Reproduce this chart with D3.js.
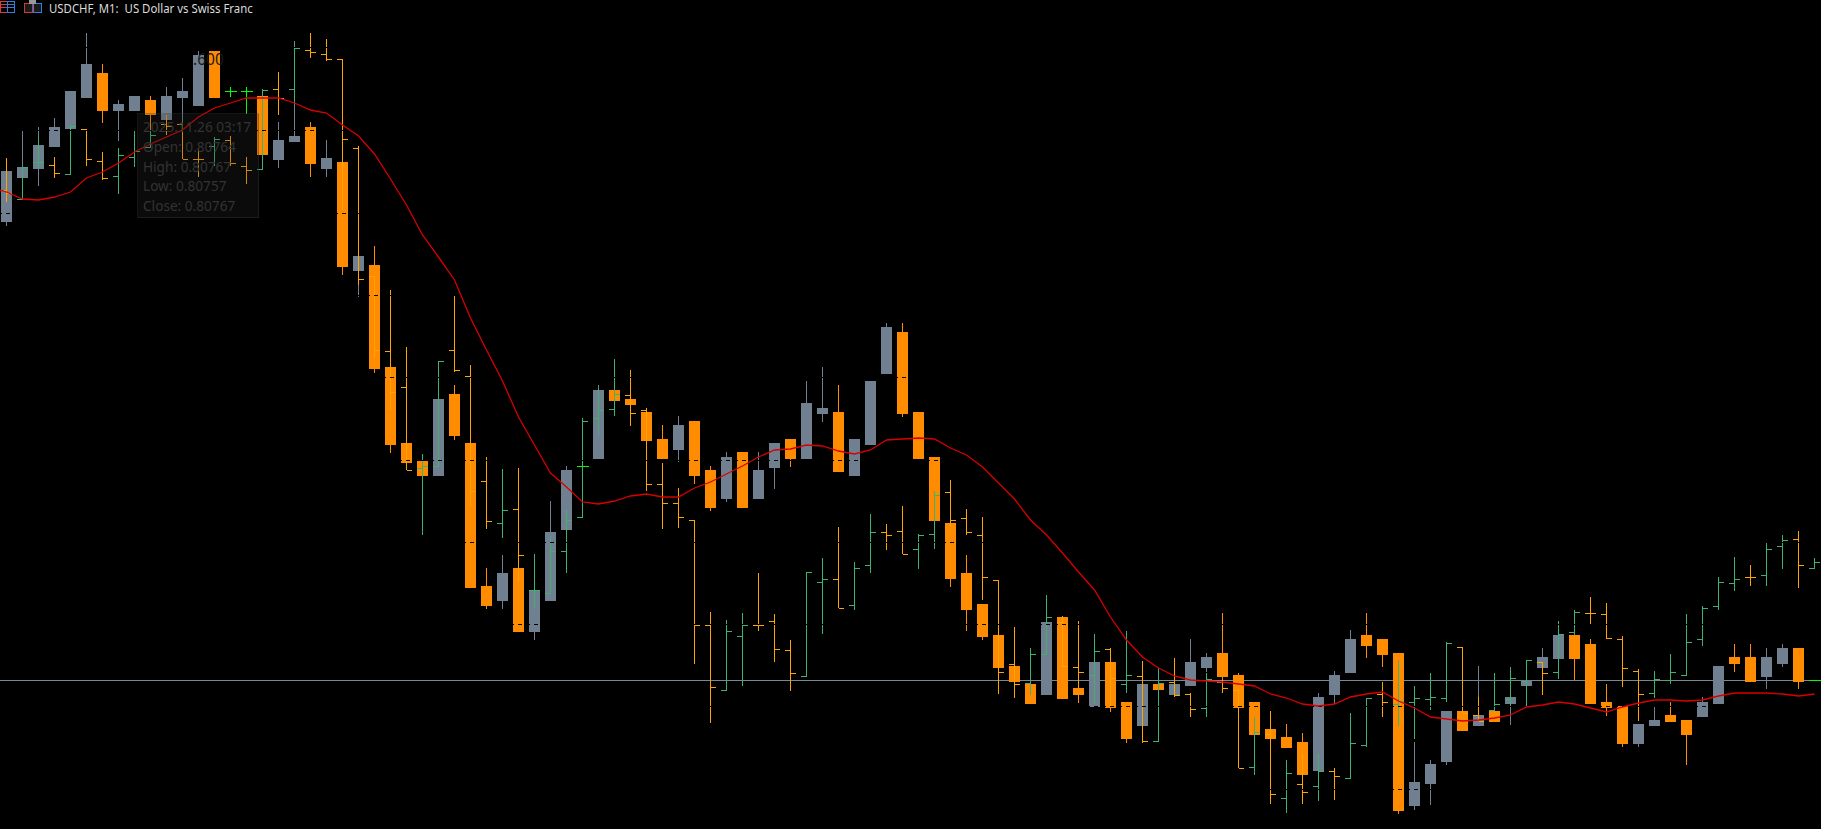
<!DOCTYPE html>
<html>
<head>
<meta charset="utf-8">
<title>USDCHF, M1</title>
<script src="https://cdn.jsdelivr.net/npm/d3@7/dist/d3.min.js"></script>
<style>
html,body{margin:0;padding:0;background:#000;overflow:hidden}
svg{display:block}
text{font-family:"Noto Sans","Open Sans",sans-serif}
</style>
</head>
<body>
<div id="chart"></div>
<script>
// All prices are points above 0.80000 (1 point = 0.00001).
const candleOpen = [607,651,660,682,700,731,756,718,718,729,709,731,723,778,738,738,733,669,687,702,660,667,558,564,462,386,368,353,435,386,243,228,261,197,228,299,363,370,439,430,417,390,379,408,359,330,377,330,361,390,370,415,417,353,384,455,497,417,372,306,256,225,194,163,145,134,212,141,122,167,127,103,145,134,143,161,176,154,127,100,92,87,58,134,156,194,190,176,23,45,67,118,103,118,125,143,161,170,194,185,127,123,85,103,114,109,112,125,172,172,152,165,181,149];
const candleHigh = [661,698,702,711,738,796,765,729,733,733,742,751,778,778,742,742,733,707,726,707,689,698,573,583,462,386,368,430,444,386,261,274,261,239,328,363,363,444,439,430,421,404,413,408,363,377,377,377,386,390,448,462,444,390,448,506,506,417,372,306,274,225,194,163,145,207,212,141,167,167,127,145,145,145,190,176,216,156,127,100,105,96,136,158,199,216,190,176,87,69,118,123,163,118,132,149,181,194,194,190,145,123,105,122,127,109,132,163,185,185,181,185,181,149];
const candleLow = [603,651,643,682,700,731,706,688,718,689,709,696,723,731,732,715,674,661,687,652,652,554,532,456,376,366,353,353,389,241,220,220,197,189,228,299,363,370,428,424,388,370,367,345,318,327,321,330,340,362,370,407,357,353,384,455,412,370,308,242,198,189,161,147,125,134,130,126,122,117,86,103,139,134,143,157,136,121,94,90,81,54,58,125,156,171,162,15,19,24,64,98,103,107,104,143,161,170,149,125,113,82,82,103,107,64,112,125,157,147,140,162,140,149];
const candleClose = [658,662,684,702,738,765,718,725,733,714,733,738,774,731,738,738,674,689,693,665,671,562,573,460,384,366,353,430,393,241,223,256,197,239,297,359,363,439,428,424,388,370,404,353,321,372,321,359,386,370,426,421,357,390,448,502,415,370,308,250,219,192,161,147,125,207,130,134,167,121,90,145,139,145,167,172,152,121,94,90,81,54,132,154,190,183,174,18,47,65,118,98,114,107,132,149,172,194,170,125,121,85,105,109,107,94,127,163,165,147,172,181,147,149];

const barOpen = [639,630,667,664,655,700,668,653,672,682,705,705,670,683,689,663,660,740,740,779,775,770,681,553,478,442,361,363,479,453,348,306,320,239,236,278,312,411,420,434,419,345,326,309,204,139,193,204,208,179,153,247,250,224,264,297,298,280,295,337,311,294,249,165,146,175,207,162,154,180,145,153,88,147,135,121,147,139,62,95,31,45,43,58,51,84,135,125,127,130,131,182,114,119,130,148,167,157,197,216,215,190,158,136,149,154,190,223,246,252,254,283,290,261];
const barHigh = [671,663,692,672,704,700,677,681,698,699,714,707,681,692,693,672,740,757,788,796,790,770,683,553,539,482,375,468,533,464,372,360,361,275,293,319,411,441,470,459,421,366,341,309,217,209,216,256,215,189,257,271,302,267,315,305,323,295,338,349,320,312,249,202,181,234,213,208,195,181,198,168,161,171,136,156,149,139,112,118,69,75,75,61,116,131,147,169,143,156,187,182,132,156,162,169,167,208,219,232,226,193,160,158,175,215,223,252,272,264,286,294,298,271];
const barLow = [627,630,661,651,655,663,649,635,662,681,694,670,652,663,663,645,660,714,726,771,768,619,544,471,419,359,294,363,457,323,300,291,247,220,235,256,312,394,413,403,338,300,301,165,106,139,143,198,167,138,153,195,221,219,256,279,275,260,280,302,294,229,135,131,134,175,162,141,125,122,136,86,88,132,112,112,136,61,54,25,16,25,28,29,51,82,112,103,90,119,127,116,108,118,123,123,134,150,194,205,190,142,108,131,145,154,183,219,238,243,243,260,241,260];
const barClose = [636,662,667,656,703,670,651,674,678,694,703,670,670,690,666,659,739,731,781,777,770,690,550,479,437,359,363,468,459,338,308,319,274,239,278,309,408,419,435,416,345,326,312,204,142,198,204,204,180,156,257,250,221,261,297,294,275,294,334,309,297,252,157,145,175,212,163,157,178,151,154,88,146,134,120,150,141,61,97,35,56,37,58,53,86,131,127,128,131,132,186,116,108,125,151,169,156,195,217,216,191,161,135,150,157,187,221,247,250,252,280,289,264,267];
// Flat bars that the picture shows in the falling colour.
const flatFallingBars = [12,47,99,109];

// Moving average, first value belongs to the bar just off the left edge.
const movingAverage = [642,637,630,629,632,637,651,657,666,677,685,692,699,712,721,726,731,731,731,726,719,716,704,693,675,650,624,594,572,549,511,479,448,412,384,356,342,327,325,328,333,335,332,332,341,347,355,363,372,379,380,384,383,378,375,379,389,390,391,390,381,374,362,346,330,309,294,276,257,239,212,189,172,161,153,149,148,147,145,143,135,131,125,123,125,132,135,137,128,121,112,110,108,109,111,114,122,124,127,125,121,117,122,126,129,129,128,129,133,136,136,136,135,133,135];

const gridLevels = [782,699,616,534,452,369,287,205,123,40];
const bidLevel = 149;

const titleText = "USDCHF, M1:  US Dollar vs Swiss Franc";
const tooltipLines = ["2025.11.26 03:17","Open: 0.80764","High: 0.80767","Low: 0.80757","Close: 0.80767"];
const floatingLabel = ".600";

const W = 1821, H = 829;
const C_UP = "#708090", C_DOWN = "#ff8c00", C_DOJI = "#00ff00", C_BAR_UP = "#3cb371", C_BAR_DOWN = "#ffa500";

const x = d3.scaleLinear().domain([0, 113]).range([6.5, 1814.5]);
const y = d3.scaleLinear().domain([0, 829]).range([829, 0]);

const svg = d3.select("#chart").append("svg").attr("width", W).attr("height", H)
  .style("background", "#000");

const crisp = svg.append("g").attr("shape-rendering", "crispEdges");

// Current-price level
crisp.append("line").attr("x1", 0).attr("x2", W)
  .attr("y1", y(bidLevel) + .5).attr("y2", y(bidLevel) + .5)
  .attr("stroke", "#778899");

// Candles
const candles = d3.range(candleOpen.length).map(i => ({
  i, o: candleOpen[i], h: candleHigh[i], l: candleLow[i], c: candleClose[i]
}));
const colorOf = d => d.c > d.o ? C_UP : d.c < d.o ? C_DOWN : C_DOJI;
const cg = crisp.append("g");
cg.selectAll(".wick").data(candles).join("line").attr("class", "wick")
  .attr("x1", d => x(d.i)).attr("x2", d => x(d.i))
  .attr("y1", d => y(d.h)).attr("y2", d => y(d.l))
  .attr("stroke", colorOf);
cg.selectAll(".body").data(candles.filter(d => d.o !== d.c)).join("rect").attr("class", "body")
  .attr("x", d => x(d.i) - 5.5).attr("width", 11)
  .attr("y", d => y(Math.max(d.o, d.c)))
  .attr("height", d => Math.abs(d.o - d.c) * (y(0) - y(1)))
  .attr("fill", colorOf);
cg.selectAll(".doji").data(candles.filter(d => d.o === d.c)).join("line").attr("class", "doji")
  .attr("x1", d => x(d.i) - 5.5).attr("x2", d => x(d.i) + 6)
  .attr("y1", d => y(d.o) + .5).attr("y2", d => y(d.o) + .5)
  .attr("stroke", C_DOJI);

// OHLC bars
const bars = d3.range(barOpen.length).map(i => ({
  i, o: barOpen[i], h: barHigh[i], l: barLow[i], c: barClose[i]
}));
const barColor = d => (d.c > d.o || (d.c === d.o && !flatFallingBars.includes(d.i))) ? C_BAR_UP : C_BAR_DOWN;
const bg = crisp.append("g");
const bar = bg.selectAll("g").data(bars).join("g").attr("stroke", barColor);
bar.append("line").attr("x1", d => x(d.i)).attr("x2", d => x(d.i))
  .attr("y1", d => y(d.h)).attr("y2", d => y(d.l));
bar.append("line").attr("x1", d => x(d.i) - 5.5).attr("x2", d => x(d.i))
  .attr("y1", d => y(d.o) + .5).attr("y2", d => y(d.o) + .5);
bar.append("line").attr("x1", d => x(d.i)).attr("x2", d => x(d.i) + 5.5)
  .attr("y1", d => y(d.c) + .5).attr("y2", d => y(d.c) + .5);

// Black dashed grid drawn over the marks
crisp.append("g").selectAll("line").data(gridLevels).join("line")
  .attr("x1", -2).attr("x2", W)
  .attr("y1", d => y(d) + .5).attr("y2", d => y(d) + .5)
  .attr("stroke", "#000").attr("stroke-dasharray", "4 4");

// Moving average
const ma = d3.line().x((d, i) => x(i - 1)).y(d => y(d));
svg.append("path").attr("d", ma(movingAverage))
  .attr("fill", "none").attr("stroke", "#d80000").attr("stroke-width", 1.3);

// Label hidden behind everything except the bodies it crosses
svg.append("text").attr("x", 193).attr("y", 65).attr("font-size", 15.5)
  .attr("fill", "#1a1a1a").text(floatingLabel);

// Crosshair tooltip
svg.append("rect").attr("x", 137.5).attr("y", 113.5).attr("width", 121).attr("height", 104)
  .attr("fill", "rgba(45,45,45,0.24)").attr("stroke", "rgba(60,60,60,0.35)")
  .attr("shape-rendering", "crispEdges");
svg.append("g").attr("transform", "translate(143,0) scale(0.975,1)")
  .selectAll("text").data(tooltipLines).join("text")
  .attr("x", 0).attr("y", (d, i) => 132 + i * 19.8)
  .attr("font-size", 14).attr("fill", "#333").text(d => d);

// Header
svg.append("text").attr("transform", "translate(49,13) scale(0.95,1)").attr("font-size", 12)
  .attr("fill", "#dcdcdc").style("white-space", "pre").text(titleText);

// Header icons
const ic = svg.append("g").attr("shape-rendering", "crispEdges");
[[0,1,7,11,"#d63c3c"],[7,1,7,11,"#2f7fe0"]].forEach(r => {
  ic.append("rect").attr("x", r[0] + .5).attr("y", r[1] + .5).attr("width", r[2]).attr("height", r[3])
    .attr("fill", "none").attr("stroke", r[4]);
  [4,7].forEach(v => ic.append("line").attr("x1", r[0]).attr("x2", r[0] + r[2])
    .attr("y1", v + .5).attr("y2", v + .5).attr("stroke", r[4]));
});
[[24,3,8,9,"#c83c3c"],[33,3,8,9,"#2f7fe0"]].forEach(r => {
  ic.append("rect").attr("x", r[0] + .5).attr("y", r[1] + .5).attr("width", r[2]).attr("height", r[3])
    .attr("fill", "#1a1a1a").attr("stroke", r[4]);
});
ic.append("rect").attr("x", 29).attr("y", 0).attr("width", 7).attr("height", 4).attr("fill", "#9a9a9a");
</script>
</body>
</html>
